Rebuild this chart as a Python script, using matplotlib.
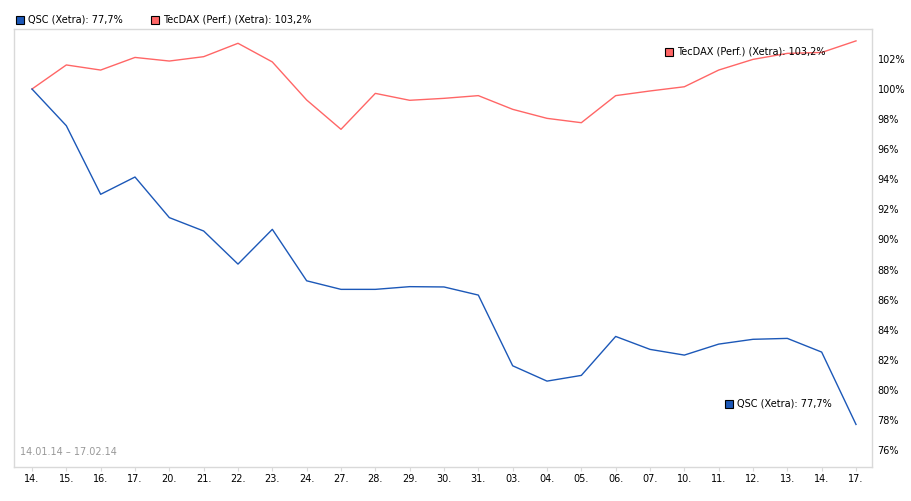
import numpy as np
import matplotlib.pyplot as plt

# Trading days 14.01.14 - 17.02.14
days = ["14.", "15.", "16.", "17.", "20.", "21.", "22.", "23.", "24.", "27.",
        "28.", "29.", "30.", "31.", "03.", "04.", "05.", "06.", "07.", "10.",
        "11.", "12.", "13.", "14.", "17."]

# Performance in percent (start = 100)
qsc = [100.0, 97.56, 93.0, 94.15, 91.45, 90.56, 88.36, 90.67, 87.25, 86.68,
       86.68, 86.86, 86.84, 86.3, 81.6, 80.58, 80.96, 83.55, 82.69, 82.31,
       83.04, 83.36, 83.42, 82.51, 77.7]
tecdax = [100.0, 101.6, 101.26, 102.1, 101.86, 102.15, 103.04, 101.8, 99.27, 97.32,
          99.71, 99.25, 99.38, 99.56, 98.65, 98.05, 97.76, 99.56, 99.87, 100.15,
          101.26, 101.97, 102.37, 102.43, 103.2]

blue = "#1c58b8"
red = "#ff6666"
W, H = 912, 501
fs = 7.0

fig = plt.figure(figsize=(W / 100, H / 100), dpi=100)
ax = fig.add_axes([14 / W, 1 - 467 / H, 858 / W, 438 / H])

x = np.arange(len(days))
ax.plot(x, tecdax, color=red, lw=1.0)
ax.plot(x, qsc, color=blue, lw=1.0)

ax.set_xlim(-0.524, 24.466)
ax.set_ylim(74.87, 103.99)

for s in ax.spines.values():
    s.set_color("#d9d9d9")
    s.set_linewidth(1.0)

ax.yaxis.tick_right()
ax.set_yticks(np.arange(76, 103, 2))
ax.set_yticklabels([f"{v}%" for v in range(76, 103, 2)])
ax.tick_params(axis="y", length=0, pad=4, labelsize=fs)
ax.set_xticks(x)
ax.set_xticklabels(days)
ax.tick_params(axis="x", length=3, color="#d9d9d9", pad=2, labelsize=fs)

# month marker under "03."
ax.text(14, -0.085, "Feb", transform=ax.get_xaxis_transform(), ha="center",
        va="top", fontsize=fs)

# date range
ax.text(6 / 858, 10 / 438, "14.01.14 \u2013 17.02.14", transform=ax.transAxes,
        fontsize=fs, color="#999999", ha="left", va="bottom")


def pct(v):
    return f"{v:.1f}%".replace(".", ",")


def entry(xpix, ypix, color, text):
    r = plt.Rectangle((xpix / W, 1 - (ypix + 4) / H), 8 / W, 8 / H,
                      transform=fig.transFigure, facecolor=color,
                      edgecolor="black", lw=0.8)
    fig.add_artist(r)
    fig.text((xpix + 12) / W, 1 - ypix / H, text, fontsize=fs,
             ha="left", va="center")


# top legend
entry(16, 20, blue, "QSC (Xetra): " + pct(qsc[-1]))
entry(151, 20, red, "TecDAX (Perf.) (Xetra): " + pct(tecdax[-1]))

# labels in the plot
entry(665, 52, red, "TecDAX (Perf.) (Xetra): " + pct(tecdax[-1]))
entry(725, 404, blue, "QSC (Xetra): " + pct(qsc[-1]))

fig.savefig("out.png", dpi=100)
